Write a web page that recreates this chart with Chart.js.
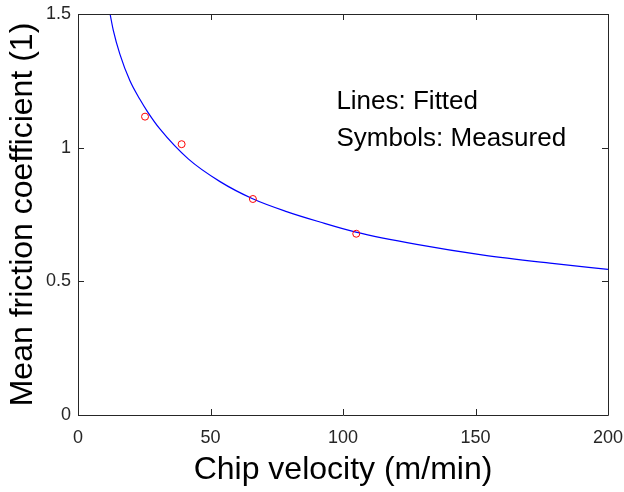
<!DOCTYPE html>
<html>
<head>
<meta charset="utf-8">
<style>
  html, body { margin: 0; padding: 0; background: #ffffff; }
  #wrap { width: 624px; height: 492px; }
</style>
<script src="https://cdn.jsdelivr.net/npm/chart.js@4/dist/chart.umd.min.js"></script>
</head>
<body>
<div id="wrap"><canvas id="c" width="624" height="492"></canvas></div>
<script>
// Fitted curve
const fittedX = [12.1, 13.3, 15.8, 19.6, 23.4, 26.2, 30.9, 41.6, 53.6, 65.9, 78.7, 91.3, 104.9, 127.8, 153, 178.1, 200];
const fittedY = [1.5, 1.44, 1.35, 1.25, 1.18, 1.135, 1.07, 0.958, 0.873, 0.809, 0.761, 0.722, 0.684, 0.638, 0.598, 0.568, 0.545];
// Measured points
const measuredX = [25.3, 39.1, 66.0, 105.0];
const measuredY = [1.116, 1.013, 0.808, 0.678];
// Axis ticks
const xTicks = [0, 50, 100, 150, 200];
const yTicks = [0, 0.5, 1, 1.5];
const noteLines = ['Lines: Fitted', 'Symbols: Measured'];

const FONT = '"Liberation Sans", Arial, Helvetica, sans-serif';
const AXIS_COLOR = '#262626';

const boxTicks = {
  id: 'boxTicks',
  afterDatasetsDraw(chart) {
    const { ctx, chartArea: a, scales } = chart;
    const xs = scales.x, ys = scales.y;
    const L = 6;
    ctx.save();
    ctx.strokeStyle = AXIS_COLOR;
    ctx.lineWidth = 1;
    ctx.beginPath();
    ctx.rect(Math.round(a.left) + 0.5, Math.round(a.top) + 0.5,
             Math.round(a.right - a.left), Math.round(a.bottom - a.top));
    xTicks.forEach(v => {
      const px = Math.round(xs.getPixelForValue(v)) + 0.5;
      ctx.moveTo(px, a.bottom); ctx.lineTo(px, a.bottom - L);
      ctx.moveTo(px, a.top); ctx.lineTo(px, a.top + L);
    });
    yTicks.forEach(v => {
      const py = Math.round(ys.getPixelForValue(v)) + 0.5;
      ctx.moveTo(a.left, py); ctx.lineTo(a.left + L, py);
      ctx.moveTo(a.right, py); ctx.lineTo(a.right - L, py);
    });
    ctx.stroke();
    // annotation text
    ctx.fillStyle = '#000000';
    ctx.font = '26px ' + FONT;
    ctx.textBaseline = 'alphabetic';
    ctx.textAlign = 'left';
    const tx = xs.getPixelForValue(97.5);
    ctx.fillText(noteLines[0], tx, ys.getPixelForValue(1.145));
    ctx.fillText(noteLines[1], tx, ys.getPixelForValue(1.006));
    ctx.restore();
  }
};

new Chart(document.getElementById('c'), {
  type: 'scatter',
  data: {
    datasets: [
      {
        label: 'Fitted',
        data: fittedX.map((x, i) => ({ x, y: fittedY[i] })),
        showLine: true,
        borderColor: '#0000ff',
        borderWidth: 1.2,
        pointRadius: 0,
        fill: false,
        cubicInterpolationMode: 'monotone',
        order: 2
      },
      {
        label: 'Measured',
        data: measuredX.map((x, i) => ({ x, y: measuredY[i] })),
        showLine: false,
        borderColor: '#ff0000',
        backgroundColor: 'rgba(0,0,0,0)',
        borderWidth: 1,
        pointRadius: 3.5,
        pointStyle: 'circle',
        order: 1
      }
    ]
  },
  options: {
    responsive: false,
    animation: false,
    devicePixelRatio: 1,
    layout: { padding: { left: 0, right: 16, top: 14, bottom: 0 } },
    plugins: { legend: { display: false }, tooltip: { enabled: false } },
    scales: {
      x: {
        type: 'linear',
        min: 0, max: 200,
        afterBuildTicks(scale) { scale.ticks = xTicks.map(v => ({ value: v })); },
        afterFit(scale) { scale.height = 77; scale.paddingLeft = 0; scale.paddingRight = 0; },
        grid: { display: false, drawTicks: false },
        border: { display: false },
        ticks: { color: AXIS_COLOR, font: { family: FONT, size: 18 }, padding: 12, maxRotation: 0 },
        title: { display: true, text: 'Chip velocity (m/min)', color: '#000000',
                 font: { family: FONT, size: 32 }, padding: { top: 0, bottom: 3 } }
      },
      y: {
        type: 'linear',
        min: 0, max: 1.5,
        afterBuildTicks(scale) { scale.ticks = yTicks.map(v => ({ value: v })); },
        afterFit(scale) { scale.width = 78; scale.paddingTop = 0; scale.paddingBottom = 0; },
        grid: { display: false, drawTicks: false },
        border: { display: false },
        ticks: { color: AXIS_COLOR, font: { family: FONT, size: 18 }, padding: 7,
                 callback: v => String(v) },
        title: { display: true, text: 'Mean friction coefficient (1)', color: '#000000',
                 font: { family: FONT, size: 32 }, padding: { top: 4, bottom: 0 } }
      }
    }
  },
  plugins: [boxTicks]
});
</script>
</body>
</html>
